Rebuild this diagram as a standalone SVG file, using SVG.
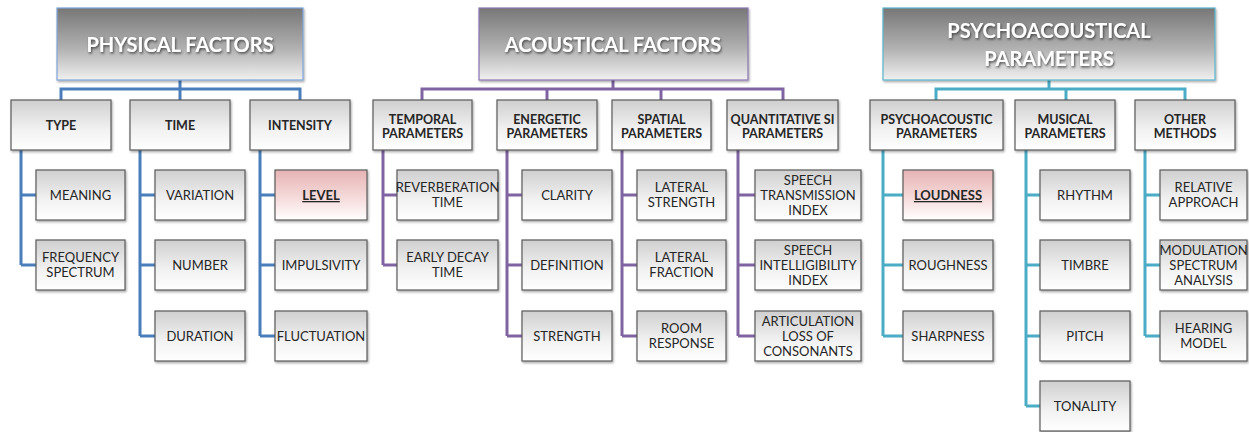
<svg xmlns="http://www.w3.org/2000/svg" width="1249" height="432" viewBox="0 0 1249 432">
<defs>
<linearGradient id="gTop" x1="0" y1="0" x2="0" y2="1"><stop offset="0" stop-color="#777777"/><stop offset="0.55" stop-color="#b0b0b0"/><stop offset="1" stop-color="#f0f0f0"/></linearGradient>
<linearGradient id="gBox" x1="0" y1="0" x2="0" y2="1"><stop offset="0" stop-color="#cfcfcf"/><stop offset="0.6" stop-color="#f2f2f2"/><stop offset="1" stop-color="#ffffff"/></linearGradient>
<linearGradient id="gPink" x1="0" y1="0" x2="0" y2="1"><stop offset="0" stop-color="#e6b3b3"/><stop offset="0.6" stop-color="#f7dede"/><stop offset="1" stop-color="#ffffff"/></linearGradient>
<filter id="sh" x="-10%" y="-10%" width="130%" height="140%"><feDropShadow dx="1" dy="1.5" stdDeviation="1" flood-color="#000" flood-opacity="0.35"/></filter>
<filter id="tsh" x="-10%" y="-30%" width="130%" height="170%"><feDropShadow dx="1" dy="1.5" stdDeviation="0.8" flood-color="#333" flood-opacity="0.8"/></filter>
<style>
.top{fill:url(#gTop);stroke-width:1.2;filter:url(#sh)}
.bx{fill:url(#gBox);stroke:#5a5a5a;stroke-width:1.2;filter:url(#sh)}
.hl{fill:url(#gPink);stroke:#5a5a5a;stroke-width:1.2;filter:url(#sh)}
.tt{font-family:Lato,"Liberation Sans",sans-serif;font-weight:bold;font-size:20px;fill:#ffffff;text-anchor:middle;filter:url(#tsh)}
.t2{font-family:Lato,"Liberation Sans",sans-serif;font-weight:bold;font-size:12.5px;fill:#262626;text-anchor:middle}
.t3{font-family:Lato,"Liberation Sans",sans-serif;font-size:13px;fill:#262626;text-anchor:middle}
.u{font-weight:bold;text-decoration:underline}
.c{fill:none;stroke-width:3}
.cb{stroke:#4a7ebb}
.cp{stroke:#8064a2}
.ct{stroke:#4bacc6}
</style>
</defs>
<rect width="1249" height="432" fill="#ffffff"/>
<g id="connectors">
<path class="c cb" d="M180 80V100M61 100V89H300V100M21 150V265M21 195H36M21 265H36M140 150V336M140 195H155M140 265H155M140 336H155M260 150V336M260 195H275M260 265H275M260 336H275"/>
<path class="c cp" d="M613 80V89M422 100V89H783V100M547 89V100M661 89V100M383 150V265M383 195H397M383 265H397M507 150V336M507 195H522M507 265H522M507 336H522M622 150V336M622 195H637M622 265H637M622 336H637M738 150V336M738 195H755M738 265H755M738 336H755"/>
<path class="c ct" d="M1049 80V89M936 100V89H1185V100M1066 89V100M883 150V336M883 195H903M883 265H903M883 336H903M1026 150V406M1026 195H1040M1026 265H1040M1026 336H1040M1026 406H1040M1145 150V336M1145 195H1160M1145 265H1160M1145 336H1160"/>
</g>
<g id="physical-factors"><rect class="top" x="57" y="8" width="246" height="72" stroke="#7ea6d8"/><text class="tt" x="180" y="52">PHYSICAL FACTORS</text></g>
<g id="acoustical-factors"><rect class="top" x="479" y="8" width="269" height="72" stroke="#8b76b3"/><text class="tt" x="613" y="52">ACOUSTICAL FACTORS</text></g>
<g id="psychoacoustical-parameters"><rect class="top" x="883" y="8" width="332" height="72" stroke="#5ab4cc"/><text class="tt" x="1049" y="38">PSYCHOACOUSTICAL</text><text class="tt" x="1049" y="66">PARAMETERS</text></g>

<g id="type"><rect class="bx" x="11" y="100" width="100" height="50"/><text class="t2" x="61" y="129.5">TYPE</text></g>
<g id="time"><rect class="bx" x="130" y="100" width="100" height="50"/><text class="t2" x="180" y="129.5">TIME</text></g>
<g id="intensity"><rect class="bx" x="250" y="100" width="100" height="50"/><text class="t2" x="300" y="129.5">INTENSITY</text></g>
<g id="temporal"><rect class="bx" x="373" y="100" width="99" height="50"/><text class="t2" x="422.5" y="124">TEMPORAL</text><text class="t2" x="422.5" y="138">PARAMETERS</text></g>
<g id="energetic"><rect class="bx" x="497" y="100" width="100" height="50"/><text class="t2" x="547" y="124">ENERGETIC</text><text class="t2" x="547" y="138">PARAMETERS</text></g>
<g id="spatial"><rect class="bx" x="612" y="100" width="99" height="50"/><text class="t2" x="661.5" y="124">SPATIAL</text><text class="t2" x="661.5" y="138">PARAMETERS</text></g>
<g id="quantitative"><rect class="bx" x="727" y="100" width="111" height="50"/><text class="t2" x="782.5" y="124">QUANTITATIVE SI</text><text class="t2" x="782.5" y="138">PARAMETERS</text></g>
<g id="psychoacoustic"><rect class="bx" x="870" y="100" width="133" height="50"/><text class="t2" x="936.5" y="124">PSYCHOACOUSTIC</text><text class="t2" x="936.5" y="138">PARAMETERS</text></g>
<g id="musical"><rect class="bx" x="1015" y="100" width="100" height="50"/><text class="t2" x="1065" y="124">MUSICAL</text><text class="t2" x="1065" y="138">PARAMETERS</text></g>
<g id="other"><rect class="bx" x="1135" y="100" width="100" height="50"/><text class="t2" x="1185" y="124">OTHER</text><text class="t2" x="1185" y="138">METHODS</text></g>

<g id="meaning"><rect class="bx" x="36" y="170" width="89" height="50"/><text class="t3" x="80.5" y="200">MEANING</text></g>
<g id="frequency-spectrum"><rect class="bx" x="36" y="240" width="89" height="50"/><text class="t3" x="80.5" y="262">FREQUENCY</text><text class="t3" x="80.5" y="277">SPECTRUM</text></g>
<g id="variation"><rect class="bx" x="155" y="170" width="90" height="50"/><text class="t3" x="200" y="200">VARIATION</text></g>
<g id="number"><rect class="bx" x="155" y="240" width="90" height="50"/><text class="t3" x="200" y="270">NUMBER</text></g>
<g id="duration"><rect class="bx" x="155" y="311" width="90" height="50"/><text class="t3" x="200" y="341">DURATION</text></g>
<g id="level"><rect class="hl" x="275" y="170" width="92" height="50"/><text class="t3 u" x="321" y="200">LEVEL</text></g>
<g id="impulsivity"><rect class="bx" x="275" y="240" width="92" height="50"/><text class="t3" x="321" y="270">IMPULSIVITY</text></g>
<g id="fluctuation"><rect class="bx" x="275" y="311" width="92" height="50"/><text class="t3" x="321" y="341">FLUCTUATION</text></g>

<g id="reverberation-time"><rect class="bx" x="397" y="170" width="101" height="50"/><text class="t3" x="447.5" y="192">REVERBERATION</text><text class="t3" x="447.5" y="207">TIME</text></g>
<g id="early-decay-time"><rect class="bx" x="397" y="240" width="101" height="50"/><text class="t3" x="447.5" y="262">EARLY DECAY</text><text class="t3" x="447.5" y="277">TIME</text></g>
<g id="clarity"><rect class="bx" x="522" y="170" width="90" height="50"/><text class="t3" x="567" y="200">CLARITY</text></g>
<g id="definition"><rect class="bx" x="522" y="240" width="90" height="50"/><text class="t3" x="567" y="270">DEFINITION</text></g>
<g id="strength"><rect class="bx" x="522" y="311" width="90" height="50"/><text class="t3" x="567" y="341">STRENGTH</text></g>
<g id="lateral-strength"><rect class="bx" x="637" y="170" width="89" height="50"/><text class="t3" x="681.5" y="192">LATERAL</text><text class="t3" x="681.5" y="207">STRENGTH</text></g>
<g id="lateral-fraction"><rect class="bx" x="637" y="240" width="89" height="50"/><text class="t3" x="681.5" y="262">LATERAL</text><text class="t3" x="681.5" y="277">FRACTION</text></g>
<g id="room-response"><rect class="bx" x="637" y="311" width="89" height="50"/><text class="t3" x="681.5" y="333">ROOM</text><text class="t3" x="681.5" y="348">RESPONSE</text></g>
<g id="sti"><rect class="bx" x="755" y="170" width="106" height="50"/><text class="t3" x="808" y="185">SPEECH</text><text class="t3" x="808" y="200">TRANSMISSION</text><text class="t3" x="808" y="215">INDEX</text></g>
<g id="sii"><rect class="bx" x="755" y="240" width="106" height="50"/><text class="t3" x="808" y="255">SPEECH</text><text class="t3" x="808" y="270">INTELLIGIBILITY</text><text class="t3" x="808" y="285">INDEX</text></g>
<g id="alcons"><rect class="bx" x="755" y="311" width="106" height="50"/><text class="t3" x="808" y="326">ARTICULATION</text><text class="t3" x="808" y="341">LOSS OF</text><text class="t3" x="808" y="356">CONSONANTS</text></g>

<g id="loudness"><rect class="hl" x="903" y="170" width="90" height="50"/><text class="t3 u" x="948" y="200">LOUDNESS</text></g>
<g id="roughness"><rect class="bx" x="903" y="240" width="90" height="50"/><text class="t3" x="948" y="270">ROUGHNESS</text></g>
<g id="sharpness"><rect class="bx" x="903" y="311" width="90" height="50"/><text class="t3" x="948" y="341">SHARPNESS</text></g>
<g id="rhythm"><rect class="bx" x="1040" y="170" width="90" height="50"/><text class="t3" x="1085" y="200">RHYTHM</text></g>
<g id="timbre"><rect class="bx" x="1040" y="240" width="90" height="50"/><text class="t3" x="1085" y="270">TIMBRE</text></g>
<g id="pitch"><rect class="bx" x="1040" y="311" width="90" height="50"/><text class="t3" x="1085" y="341">PITCH</text></g>
<g id="tonality"><rect class="bx" x="1040" y="381" width="90" height="50"/><text class="t3" x="1085" y="411">TONALITY</text></g>
<g id="relative-approach"><rect class="bx" x="1160" y="170" width="87" height="50"/><text class="t3" x="1203.5" y="192">RELATIVE</text><text class="t3" x="1203.5" y="207">APPROACH</text></g>
<g id="modulation-spectrum"><rect class="bx" x="1160" y="240" width="87" height="50"/><text class="t3" x="1203.5" y="255">MODULATION</text><text class="t3" x="1203.5" y="270">SPECTRUM</text><text class="t3" x="1203.5" y="285">ANALYSIS</text></g>
<g id="hearing-model"><rect class="bx" x="1160" y="311" width="87" height="50"/><text class="t3" x="1203.5" y="333">HEARING</text><text class="t3" x="1203.5" y="348">MODEL</text></g>
</svg>
